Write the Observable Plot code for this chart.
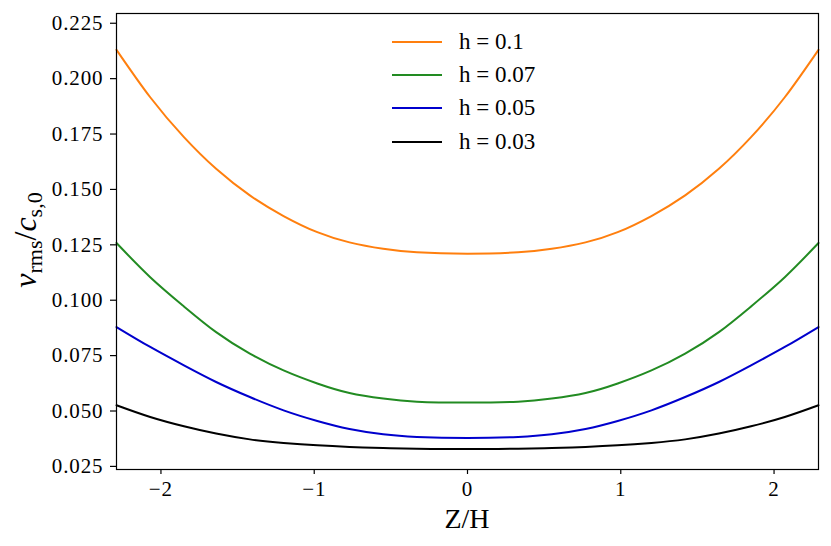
<!DOCTYPE html>
<html>
<head>
<meta charset="utf-8">
<script src="https://cdn.jsdelivr.net/npm/d3@7"></script>
<script src="https://cdn.jsdelivr.net/npm/@observablehq/plot@0.6"></script>
<style>
  html, body { margin: 0; padding: 0; background: #fff; }
  #wrap { position: relative; width: 831px; height: 546px; font-family: "Liberation Serif", serif; }
  #wrap svg, #wrap svg text, #wrap svg tspan { font-family: "Liberation Serif", serif !important; }
  #wrap svg g[aria-label*="tick label"] text { font-size: 21px !important; letter-spacing: 0.9px; fill: #000; }
  #legend { position: absolute; left: 392px; top: 25px; }
  .row { display: flex; align-items: center; height: 33.3px; }
  .sw { width: 50px; height: 2px; margin-right: 17px; }
  .lab { font-size: 23px; color: #000; }
</style>
</head>
<body>
<div id="wrap"></div>
<script>
const zs = [-2.29,-2.07,-1.85,-1.64,-1.42,-1.2,-0.98,-0.77,-0.55,-0.33,0,0.33,0.55,0.77,0.98,1.2,1.42,1.64,1.85,2.07,2.29];
const h010 = [0.2130,0.1916,0.1736,0.1593,0.1473,0.1380,0.1307,0.1261,0.1232,0.1216,0.1210,0.1216,0.1232,0.1261,0.1307,0.1380,0.1473,0.1593,0.1736,0.1916,0.2130];
const h007 = [0.1258,0.1104,0.0972,0.0856,0.0759,0.0683,0.0624,0.0581,0.0556,0.0542,0.0538,0.0542,0.0556,0.0581,0.0624,0.0683,0.0759,0.0856,0.0972,0.1104,0.1258];
const h005 = [0.0879,0.0789,0.0706,0.0631,0.0563,0.0503,0.0455,0.0419,0.0395,0.0383,0.0378,0.0383,0.0395,0.0419,0.0455,0.0503,0.0563,0.0631,0.0706,0.0789,0.0879];
const h003 = [0.0526,0.0473,0.0431,0.0398,0.0372,0.0356,0.0345,0.0338,0.0333,0.0330,0.0328,0.0330,0.0333,0.0338,0.0345,0.0356,0.0372,0.0398,0.0431,0.0473,0.0526];
const seriesNames = ["h = 0.1", "h = 0.07", "h = 0.05", "h = 0.03"];
const seriesColors = ["#ff7f0e", "#228b22", "#0000cd", "#000000"];
const xTicks = [-2, -1, 0, 1, 2];
const yTicks = [0.025, 0.050, 0.075, 0.100, 0.125, 0.150, 0.175, 0.200, 0.225];

const allSeries = [h010, h007, h005, h003];
const rows = [];
allSeries.forEach((vals, i) => vals.forEach((v, j) => rows.push({z: zs[j], v, s: seriesNames[i]})));

const plot = Plot.plot({
  width: 831,
  height: 546,
  marginLeft: 116,
  marginRight: 13,
  marginTop: 13,
  marginBottom: 77,
  style: {fontFamily: "'Liberation Serif', serif", fontSize: "21px", color: "#000", background: "#fff"},
  x: {domain: [-2.29, 2.29], label: null},
  y: {domain: [0.0236, 0.2294], label: null},
  color: {domain: seriesNames, range: seriesColors},
  marks: [
    Plot.line(rows, {x: "z", y: "v", z: "s", stroke: "s", strokeWidth: 2, curve: "natural"}),
    Plot.frame({stroke: "#000", strokeWidth: 1.2}),
    Plot.axisX({ticks: xTicks, tickFormat: d => (d < 0 ? "\u2212" : "") + Math.abs(d), tickSize: 5, tickPadding: 7, strokeWidth: 1.2}),
    Plot.axisY({ticks: yTicks, tickFormat: d3.format(".3f"), tickSize: 6, tickPadding: 7, strokeWidth: 1.2})
  ]
});

const svg = d3.select(plot);
svg.append("text")
  .attr("x", 467).attr("y", 528)
  .attr("text-anchor", "middle")
  .attr("font-size", 28)
  .attr("fill", "#000")
  .text("Z/H");
const yl = svg.append("text")
  .attr("transform", "translate(36,240) rotate(-90)")
  .attr("text-anchor", "middle")
  .attr("font-size", 32)
  .attr("fill", "#000");
yl.append("tspan").attr("font-style", "italic").text("v");
yl.append("tspan").attr("font-size", 22).attr("dy", 6).text("rms");
yl.append("tspan").attr("dy", -6).text("/");
yl.append("tspan").attr("font-style", "italic").text("c");
yl.append("tspan").attr("font-size", 22).attr("dy", 6).text("s,0");

const wrap = document.getElementById("wrap");
wrap.appendChild(plot);

const legend = document.createElement("div");
legend.id = "legend";
seriesNames.forEach((n, i) => {
  const r = document.createElement("div");
  r.className = "row";
  const sw = document.createElement("div");
  sw.className = "sw";
  sw.style.background = seriesColors[i];
  const lab = document.createElement("span");
  lab.className = "lab";
  lab.textContent = n;
  r.appendChild(sw); r.appendChild(lab);
  legend.appendChild(r);
});
wrap.appendChild(legend);
</script>
</body>
</html>
